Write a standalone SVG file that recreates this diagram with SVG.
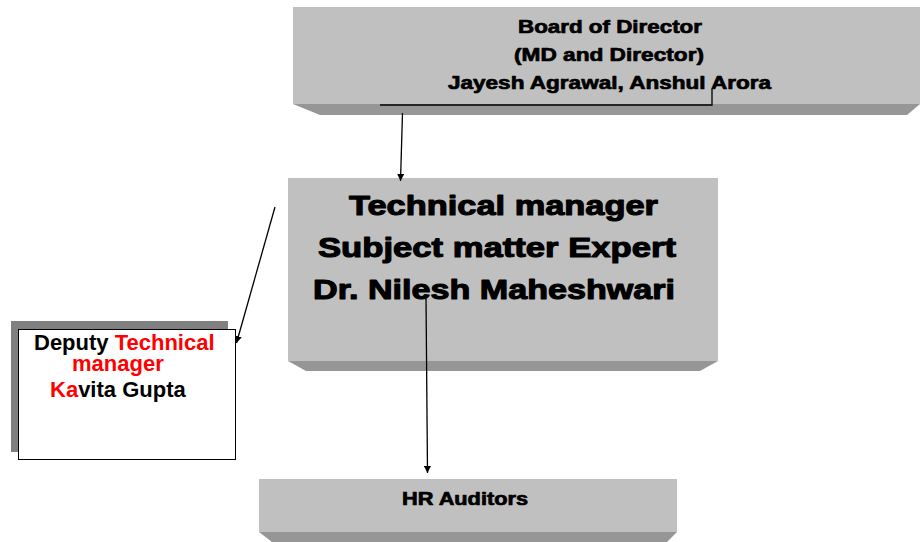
<svg xmlns="http://www.w3.org/2000/svg" width="920" height="542" viewBox="0 0 920 542">
<style>
.face{fill:#c0c0c0}
.bevel{fill:#969696}
.blk{font-family:"Liberation Sans",Arial,sans-serif;font-weight:bold;fill:#000;stroke:#000;stroke-linejoin:round}
.dep{font-family:"Liberation Sans",Arial,sans-serif;font-weight:bold;font-size:22px;fill:#000}
.red{fill:#ff0000}
.conn{stroke:#000;stroke-width:1.3;fill:none}
</style>
<defs>
<marker id="ah" viewBox="0 0 10 10" refX="10" refY="5" markerWidth="7" markerHeight="7" markerUnits="userSpaceOnUse" orient="auto">
<path d="M0,0 L10,5 L0,10 z" fill="#000"/>
</marker>
</defs>
<rect width="920" height="542" fill="#fff"/>
<g id="board">
<rect class="face" x="293" y="7" width="627" height="97"/>
<polygon class="bevel" points="293,104 920,104 907,115 320,115"/>
<text class="blk" font-size="18.5" stroke-width="0.7" x="518" y="33" textLength="184" lengthAdjust="spacingAndGlyphs">Board of Director</text>
<text class="blk" font-size="18.5" stroke-width="0.7" x="514" y="61" textLength="190" lengthAdjust="spacingAndGlyphs">(MD and Director)</text>
<text class="blk" font-size="18.5" stroke-width="0.7" x="448" y="89" textLength="323" lengthAdjust="spacingAndGlyphs">Jayesh Agrawal, Anshul Arora</text>
</g>
<g id="techmgr">
<rect class="face" x="288" y="178" width="430" height="183"/>
<polygon class="bevel" points="288,361 718,361 700,371 306,371"/>
<text class="blk" font-size="27.5" stroke-width="1.1" x="349" y="215" textLength="309" lengthAdjust="spacingAndGlyphs">Technical manager</text>
<text class="blk" font-size="27.5" stroke-width="1.1" x="318" y="257" textLength="358" lengthAdjust="spacingAndGlyphs">Subject matter Expert</text>
<text class="blk" font-size="27.5" stroke-width="1.1" x="313" y="299" textLength="362" lengthAdjust="spacingAndGlyphs">Dr. Nilesh Maheshwari</text>
</g>
<g id="deputy">
<rect x="11" y="321" width="217" height="131" fill="#808080"/>
<rect x="18.5" y="329.5" width="217" height="130" fill="#fff" stroke="#000" stroke-width="1"/>
<text class="dep" x="34" y="350">Deputy <tspan class="red">Technical</tspan></text>
<text class="dep red" x="72" y="371">manager</text>
<text class="dep" x="50" y="397"><tspan class="red">Ka</tspan>vita Gupta</text>
</g>
<g id="hr">
<rect class="face" x="259" y="479" width="418" height="53"/>
<polygon class="bevel" points="259,532 677,532 667,542 272,542"/>
<text class="blk" font-size="17.5" stroke-width="0.7" x="402" y="505" textLength="126" lengthAdjust="spacingAndGlyphs">HR Auditors</text>
</g>
<g id="connectors">
<polyline class="conn" points="380,105 712,105 712,89"/>
<line class="conn" x1="402.5" y1="113" x2="400.5" y2="181" marker-end="url(#ah)"/>
<line class="conn" x1="275" y1="207" x2="236.5" y2="343" marker-end="url(#ah)"/>
<line class="conn" x1="426" y1="296" x2="427.5" y2="473" marker-end="url(#ah)"/>
</g>
</svg>
